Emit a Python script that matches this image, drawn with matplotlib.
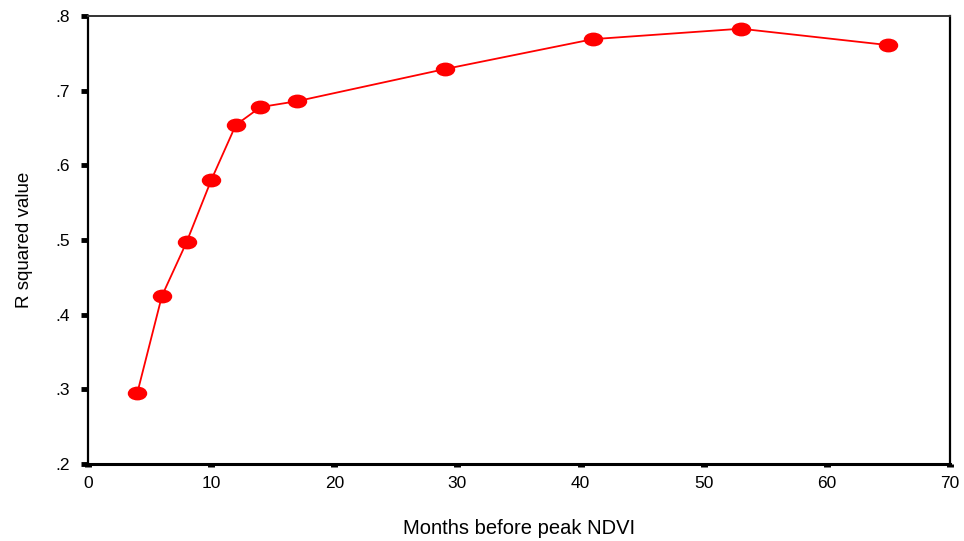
import matplotlib
matplotlib.use("Agg")
import matplotlib.pyplot as plt
from matplotlib.path import Path

months = [4, 6, 8, 10, 12, 14, 17, 29, 41, 53, 65]
r_squared = [0.295, 0.425, 0.497, 0.580, 0.654, 0.678, 0.686, 0.729, 0.769, 0.783, 0.761]

x_ticks = [0, 10, 20, 30, 40, 50, 60, 70]
y_ticks = [0.2, 0.3, 0.4, 0.5, 0.6, 0.7, 0.8]
y_tick_labels = [".2", ".3", ".4", ".5", ".6", ".7", ".8"]

plt.rcParams['font.family'] = ['Liberation Sans', 'DejaVu Sans']

# wide ellipse marker like the original SPSS dots
circle = Path.unit_circle()
ellipse = Path(circle.vertices * [1.45, 1.0], circle.codes)

fig = plt.figure(figsize=(9.64, 5.41), dpi=100)
ax = fig.add_axes([0.0913, 0.1423, 0.8942, 0.8281])

ax.plot(months, r_squared, color='#ff0000', linewidth=1.3,
        marker=ellipse, markersize=13, markerfacecolor='#ff0000',
        markeredgecolor='#ff0000', clip_on=False, zorder=3)

ax.set_xlim(0, 70)
ax.set_ylim(0.2, 0.8)
ax.set_xticks(x_ticks)
ax.set_yticks(y_ticks)
ax.set_yticklabels(y_tick_labels)

ax.spines['left'].set_linewidth(1.6)
ax.spines['right'].set_linewidth(1.6)
ax.spines['bottom'].set_linewidth(2.2)
ax.spines['top'].set_linewidth(1.4)
ax.spines['top'].set_color('#333333')

ax.tick_params(axis='x', direction='out', length=2.5, width=5, pad=6,
               labelsize=12.5)
ax.tick_params(axis='y', direction='out', length=5, width=3.5, pad=8,
               labelsize=12.5)

ax.set_xlabel('Months before peak NDVI', fontsize=14.5, labelpad=20)
ax.set_ylabel('R squared value', fontsize=13.5, labelpad=16)

fig.savefig('out.png', dpi=100)
